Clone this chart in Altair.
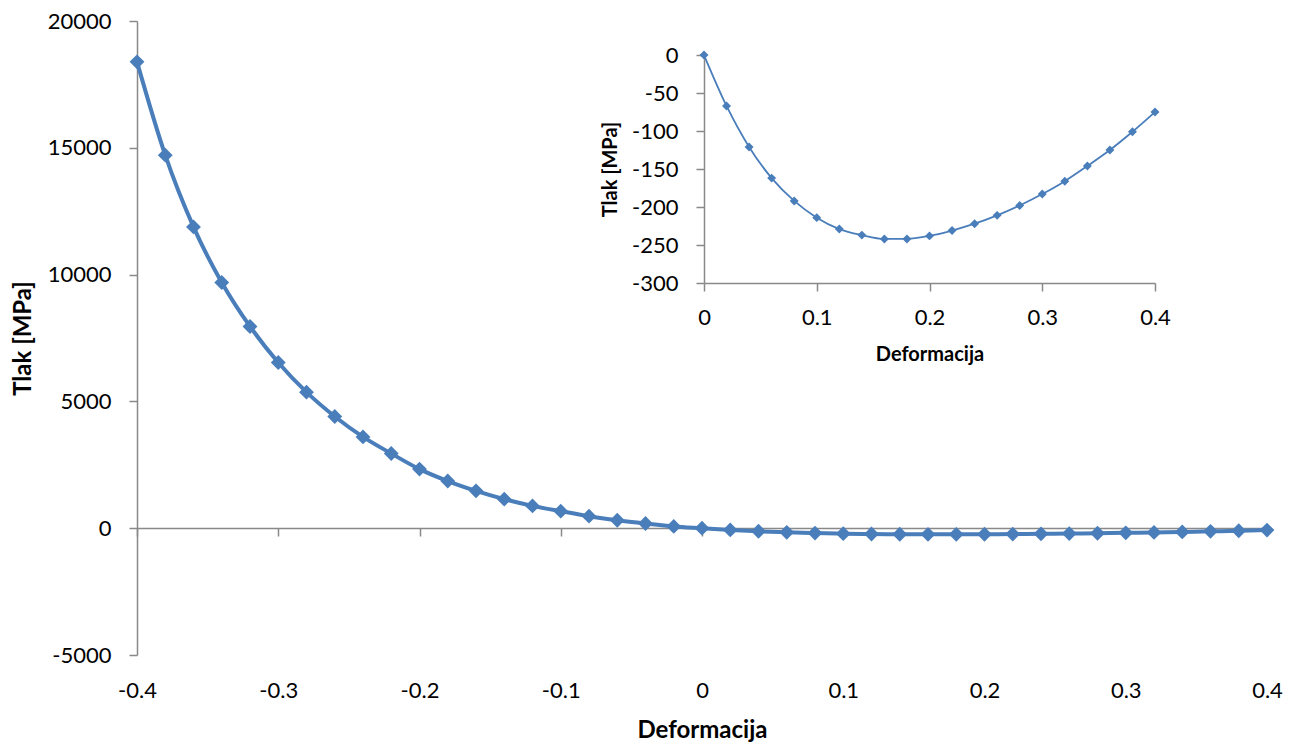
import altair as alt
import pandas as pd

# ---- data ----
strain = [-0.40, -0.38, -0.36, -0.34, -0.32, -0.30, -0.28, -0.26, -0.24, -0.22,
          -0.20, -0.18, -0.16, -0.14, -0.12, -0.10, -0.08, -0.06, -0.04, -0.02,
          0.00, 0.02, 0.04, 0.06, 0.08, 0.10, 0.12, 0.14, 0.16, 0.18,
          0.20, 0.22, 0.24, 0.26, 0.28, 0.30, 0.32, 0.34, 0.36, 0.38, 0.40]
stress = [18390, 14710, 11880, 9690, 7955, 6535, 5365, 4405, 3600, 2945,
          2330, 1860, 1472, 1145, 880, 670, 473, 315, 185, 70,
          0, -67, -121, -162, -192, -214, -229, -237, -242, -242,
          -238, -231, -222, -211, -198, -183, -166, -146, -125, -101, -75]

main_x_ticks = [-0.4, -0.3, -0.2, -0.1, 0, 0.1, 0.2, 0.3, 0.4]
main_y_ticks = [-5000, 0, 5000, 10000, 15000, 20000]
inset_x_ticks = [0, 0.1, 0.2, 0.3, 0.4]
inset_y_ticks = [-300, -250, -200, -150, -100, -50, 0]

x_title = "Deformacija"
y_title = "Tlak [MPa]"

df = pd.DataFrame({"strain": strain, "stress": stress})

BLUE = "#4A7EBB"
AXIS_GRAY = "#898989"
FONT = "Lato"

W, H = 1130, 634

common_axis = dict(
    grid=False, domainColor=AXIS_GRAY, tickColor=AXIS_GRAY, domainWidth=1.5,
    tickWidth=1.5, tickSize=8, labelFont=FONT, titleFont=FONT, labelColor="black",
    titleColor="black", labelFontSize=22, titleFontWeight="bold",
    labelOverlap=False, labelFlush=False, labelExpr="toString(datum.value)",
)

# ---- main chart ----
main_base = alt.Chart(df).encode(
    x=alt.X("strain:Q",
            scale=alt.Scale(domain=[-0.4, 0.4], nice=False, zero=False),
            axis=alt.Axis(values=main_x_ticks, orient="bottom", offset=-127,
                          labelPadding=161, labelBaseline="alphabetic",
                          title=x_title, titleFontSize=24,
                          titleBaseline="alphabetic", titleY=209,
                          **common_axis)),
    y=alt.Y("stress:Q",
            scale=alt.Scale(domain=[-5000, 20000], nice=False, zero=False),
            axis=alt.Axis(values=main_y_ticks, orient="left", labelPadding=18,
                          title=y_title, titleFontSize=24, titleAngle=270,
                          titleBaseline="middle", titleX=-114,
                          **common_axis)),
)
main = alt.layer(
    main_base.mark_line(color=BLUE, strokeWidth=4, interpolate="monotone"),
    main_base.mark_point(shape="diamond", filled=True, size=220, color=BLUE,
                         opacity=1, strokeWidth=0),
)

# ---- inset chart ----
inset_base = alt.Chart(df).transform_filter("datum.strain >= 0").encode(
    x=alt.X("strain:Q",
            scale=alt.Scale(domain=[0, 0.4], nice=False, zero=False, range=[567, 1018]),
            axis=alt.Axis(values=inset_x_ticks, orient="bottom", offset=-372,
                          labelPadding=33, labelBaseline="alphabetic",
                          title=x_title, titleFontSize=20,
                          titleBaseline="alphabetic", titleY=77,
                          **common_axis)),
    y=alt.Y("stress:Q",
            scale=alt.Scale(domain=[-300, 0], nice=False, zero=False, range=[262, 34]),
            axis=alt.Axis(values=inset_y_ticks, orient="left", offset=-567,
                          labelPadding=18,
                          title=y_title, titleFontSize=20, titleAngle=270,
                          titleBaseline="middle", titleX=-94,
                          **common_axis)),
)
inset = alt.layer(
    inset_base.mark_line(color=BLUE, strokeWidth=1.8, interpolate="monotone"),
    inset_base.mark_point(shape="diamond", filled=True, size=80, color=BLUE,
                          opacity=1, strokeWidth=0),
)

chart = alt.layer(main, inset).resolve_scale(
    x="independent", y="independent"
).properties(
    width=W, height=H,
    autosize=alt.AutoSizeParams(type="none"),
    padding={"left": 129, "top": 13, "right": 16, "bottom": 89},
    background="white",
).configure_view(stroke=None)

chart.save("out.html", embed_options={"renderer": "svg", "actions": False})
